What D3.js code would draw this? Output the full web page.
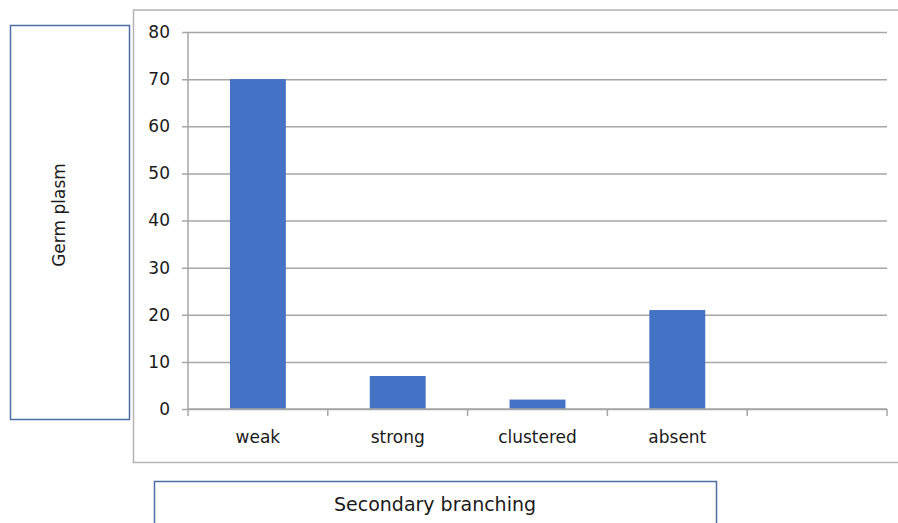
<!DOCTYPE html>
<html>
<head>
<meta charset="utf-8">
<script src="https://cdn.jsdelivr.net/npm/d3@7"></script>
<style>
  body { margin: 0; background: #fff; }
  text { font-family: "DejaVu Sans", Verdana, sans-serif; fill: #1a1a1a; }
</style>
</head>
<body>
<div id="vis"></div>
<script>
'use strict';

var categories = ['weak', 'strong', 'clustered', 'absent', ''];
var values = [70, 7, 2, 21, null];
var yTicks = [0, 10, 20, 30, 40, 50, 60, 70, 80];
var yTitle = 'Germ plasm';
var xTitle = 'Secondary branching';

var width = 898, height = 523;
var plot = { left: 188, right: 887, top: 32, bottom: 409 };

var svg = d3.select('#vis').append('svg')
    .attr('width', width)
    .attr('height', height);

// chart frame (right edge runs off the picture)
svg.append('path')
    .attr('d', 'M' + (width + 5) + ',10H133.5V462.5H' + (width + 5))
    .attr('fill', 'none')
    .attr('stroke', '#b4b4b4')
    .attr('stroke-width', 1.5);

var x = d3.scaleBand()
    .domain(categories.map(function (d, i) { return i; }))
    .range([plot.left, plot.right]);

var y = d3.scaleLinear()
    .domain([0, 80])
    .range([plot.bottom, plot.top]);

// gridlines + y axis
var yAxis = svg.append('g')
    .attr('transform', 'translate(' + plot.left + ',0)')
    .call(d3.axisLeft(y)
        .tickValues(yTicks)
        .tickSize(-(plot.right - plot.left)));
yAxis.select('.domain').remove();
yAxis.selectAll('.tick line')
    .attr('stroke', '#a6a6a6')
    .attr('stroke-width', 1.5)
    .attr('x1', -6);
yAxis.selectAll('.tick text')
    .attr('font-size', 17)
    .attr('x', -18);

// vertical axis line
svg.append('line')
    .attr('x1', plot.left).attr('x2', plot.left)
    .attr('y1', plot.top).attr('y2', plot.bottom)
    .attr('stroke', '#a6a6a6')
    .attr('stroke-width', 1.5);

// bars
var barW = x.bandwidth() * 0.4;
svg.append('g').selectAll('rect')
    .data(values.map(function (v, i) { return { i: i, v: v }; })
        .filter(function (d) { return d.v !== null; }))
    .enter().append('rect')
    .attr('x', function (d) { return x(d.i) + (x.bandwidth() - barW) / 2; })
    .attr('y', function (d) { return y(d.v); })
    .attr('width', barW)
    .attr('height', function (d) { return y(0) - y(d.v); })
    .attr('fill', '#4472c4');

// x axis with category boundary ticks
var bounds = categories.map(function (d, i) { return x(i); }).concat([plot.right]);
var xAxis = svg.append('g');
xAxis.append('line')
    .attr('x1', plot.left).attr('x2', plot.right)
    .attr('y1', plot.bottom).attr('y2', plot.bottom)
    .attr('stroke', '#a6a6a6')
    .attr('stroke-width', 1.5);
xAxis.selectAll('line.tk')
    .data(bounds)
    .enter().append('line')
    .attr('class', 'tk')
    .attr('x1', function (d) { return d; }).attr('x2', function (d) { return d; })
    .attr('y1', plot.bottom).attr('y2', plot.bottom + 7)
    .attr('stroke', '#a6a6a6')
    .attr('stroke-width', 1.5);
xAxis.selectAll('text')
    .data(categories)
    .enter().append('text')
    .attr('x', function (d, i) { return x(i) + x.bandwidth() / 2; })
    .attr('y', 443)
    .attr('text-anchor', 'middle')
    .attr('font-size', 17)
    .text(function (d) { return d; });

// y title box
svg.append('rect')
    .attr('x', 10.5).attr('y', 25.5)
    .attr('width', 119).attr('height', 394)
    .attr('fill', 'none')
    .attr('stroke', '#4f6fa8')
    .attr('stroke-width', 1.5);
svg.append('text')
    .attr('transform', 'translate(65,215) rotate(-90)')
    .attr('text-anchor', 'middle')
    .attr('font-size', 17)
    .text(yTitle);

// x title box
svg.append('path')
    .attr('d', 'M154.5,' + (height + 5) + 'V481.5H716.5V' + (height + 5))
    .attr('fill', 'none')
    .attr('stroke', '#4f6fa8')
    .attr('stroke-width', 1.5);
svg.append('text')
    .attr('x', 435)
    .attr('y', 511)
    .attr('text-anchor', 'middle')
    .attr('font-size', 19)
    .text(xTitle);
</script>
</body>
</html>
